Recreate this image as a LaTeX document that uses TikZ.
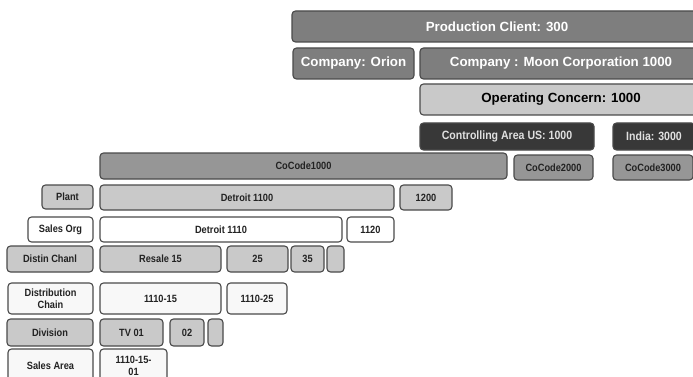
\documentclass[tikz,border=0pt]{standalone}
\usepackage{fontspec}
\setmainfont{Liberation Sans}
\newfontfamily\narrowf[FakeStretch=0.88]{Liberation Sans}
\definecolor{bordc}{HTML}{4A4A4A}
\definecolor{midg}{HTML}{7E7E7E}
\definecolor{cog}{HTML}{969696}
\definecolor{lightg}{HTML}{C9C9C9}
\definecolor{darkg}{HTML}{383838}
\definecolor{offw}{HTML}{F8F8F8}
\definecolor{txtd}{HTML}{222222}
\newcommand{\bx}[7]{\node[box,#6,anchor=north west,minimum width={(#4-#2)*1pt},minimum height={(#5-#3)*1pt}] (#1) at (#2pt,-#3pt) {#7};}
\tikzset{
  box/.style={draw=bordc,line width=1.1pt,rounded corners=3.5pt,inner sep=0pt,outer sep=0pt,align=center,text=txtd,font=\narrowf\fontsize{10.5}{12}\selectfont\bfseries},
  topbox/.style={fill=midg,text=white,font=\fontsize{13.3}{15}\selectfont\bfseries},
  opbox/.style={fill=lightg,text=black,font=\fontsize{13.3}{15}\selectfont\bfseries},
  darkbox/.style={fill=darkg,text=white!88!black,font=\narrowf\fontsize{12}{14}\selectfont\bfseries},
  cobox/.style={fill=cog},
  lbox/.style={fill=lightg},
  wbox/.style={fill=white},
  obox/.style={fill=offw}
}
\begin{document}
\begin{tikzpicture}
\clip (0,0) rectangle (693pt,-377pt);
\fill[white] (0,0) rectangle (693pt,-377pt);
% top levels
\bx{client}{292}{11}{702}{42}{topbox}{Production Client: 300}
\bx{orion}{293}{48}{414}{79}{topbox}{Company: Orion}
\bx{moon}{420}{48}{702}{79}{topbox}{Company : Moon Corporation 1000}
\bx{opcon}{420}{84}{702}{115}{opbox}{Operating Concern: 1000}
\bx{causa}{420}{123}{594}{150}{darkbox}{Controlling Area US: 1000}
\bx{india}{613}{123}{695}{150}{darkbox}{India: 3000}
\bx{cc1}{100}{153}{507}{179}{cobox}{CoCode1000}
\bx{cc2}{514}{155}{593}{180}{cobox}{CoCode2000}
\bx{cc3}{613}{155}{693}{180}{cobox}{CoCode3000}
% plant
\bx{plantl}{42}{185}{93}{209}{lbox}{Plant}
\bx{p1100}{100}{185}{394}{210}{lbox}{Detroit 1100}
\bx{p1200}{400}{185}{452}{210}{lbox}{1200}
% sales org
\bx{sorgl}{28}{217}{93}{242}{wbox}{Sales Org}
\bx{s1110}{100}{217}{342}{242}{wbox}{Detroit 1110}
\bx{s1120}{347}{217}{394}{242}{wbox}{1120}
% distin chanl
\bx{dcl}{7}{246}{93}{272}{lbox}{Distin Chanl}
\bx{dc15}{100}{246}{221}{272}{lbox}{Resale 15}
\bx{dc25}{227}{246}{288}{272}{lbox}{25}
\bx{dc35}{291}{246}{324}{272}{lbox}{35}
\bx{dcx}{327}{246}{344}{272}{lbox}{}
% distribution chain
\bx{dchl}{8}{283}{93}{314}{obox}{Distribution\\Chain}
\bx{dch15}{100}{283}{221}{314}{obox}{1110-15}
\bx{dch25}{227}{283}{287}{314}{obox}{1110-25}
% division
\bx{divl}{7}{319}{93}{346}{lbox}{Division}
\bx{tv01}{100}{319}{163}{346}{lbox}{TV 01}
\bx{d02}{170}{319}{204}{346}{lbox}{02}
\bx{dx}{208}{319}{223}{346}{lbox}{}
% sales area
\bx{sal}{8}{349}{93}{382}{obox}{Sales Area}
\bx{sa1}{100}{349}{167}{382}{obox}{1110-15-\\01}
\end{tikzpicture}
\end{document}
